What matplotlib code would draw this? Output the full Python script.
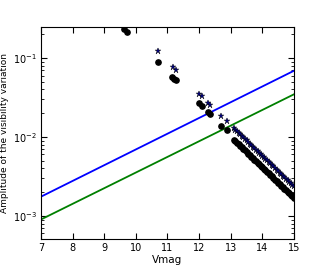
import matplotlib
matplotlib.use("Agg")
import matplotlib.pyplot as plt

# isolated points (bright end)
v_circ = [9.62, 9.73, 10.70, 11.16, 11.21, 11.27, 12.00, 12.08, 12.29, 12.34, 12.70, 12.87]
a_circ = [0.235, 0.213, 0.090, 0.057, 0.055, 0.053, 0.0267, 0.0247, 0.0205, 0.0195, 0.0139, 0.0123]
v_star = [10.69, 11.17, 11.27, 12.00, 12.08, 12.29, 12.34, 12.70, 12.87]
a_star = [0.121, 0.076, 0.0705, 0.035, 0.0327, 0.0272, 0.0257, 0.0185, 0.0161]

# dense faint-end sequence
v_seq = [13.10, 13.15, 13.20, 13.25, 13.30, 13.35, 13.40, 13.45, 13.50, 13.55,
         13.60, 13.65, 13.70, 13.75, 13.80, 13.85, 13.90, 13.95, 14.00, 14.05,
         14.10, 14.15, 14.20, 14.25, 14.30, 14.35, 14.40, 14.45, 14.50, 14.55,
         14.60, 14.65, 14.70, 14.75, 14.80, 14.85, 14.90, 14.95, 15.00]
a_seq_circ = [0.00923, 0.00883, 0.00844, 0.00807, 0.00772, 0.00738, 0.00706, 0.00675, 0.00646, 0.00617,
              0.00590, 0.00565, 0.00540, 0.00516, 0.00494, 0.00472, 0.00452, 0.00432, 0.00413, 0.00395,
              0.00378, 0.00361, 0.00345, 0.00330, 0.00316, 0.00302, 0.00289, 0.00276, 0.00264, 0.00253,
              0.00242, 0.00231, 0.00221, 0.00211, 0.00202, 0.00193, 0.00185, 0.00177, 0.00169]
a_seq_star = [0.0129, 0.01236, 0.01182, 0.0113, 0.0108, 0.01033, 0.00988, 0.00945, 0.00904, 0.00864,
              0.00826, 0.00791, 0.00756, 0.00722, 0.00692, 0.00661, 0.00633, 0.00605, 0.00578, 0.00553,
              0.00529, 0.00505, 0.00483, 0.00462, 0.00442, 0.00423, 0.00405, 0.00386, 0.0037, 0.00354,
              0.00339, 0.00323, 0.00309, 0.00295, 0.00283, 0.0027, 0.00259, 0.00248, 0.00237]

# detection limits
v_lim = [7, 15]
lim_blue = [0.00175, 0.069]
lim_green = [0.00090, 0.0347]

fig = plt.figure(figsize=(3.27, 2.73), dpi=100)
ax = fig.add_axes([0.125, 0.1245, 0.774, 0.7766])

ax.plot(v_lim, lim_blue, color="blue", lw=1.3)
ax.plot(v_lim, lim_green, color="green", lw=1.3)

ax.plot(v_circ + v_seq, a_circ + a_seq_circ, "o", color="black", ms=3.8, mec="black")
ax.plot(v_star + v_seq, a_star + a_seq_star, "*", color="#000080", ms=5, mec="black", mew=0.3)

ax.set_yscale("log")
ax.set_xlim(7, 15)
ax.set_ylim(5.1e-4, 0.247)
ax.set_xticks(range(7, 16))
ax.set_xlabel("Vmag", fontsize=7.5, labelpad=1)
ax.set_ylabel("Amplitude of the visibility variation", fontsize=6.5, labelpad=3)
ax.tick_params(which="both", direction="in", top=True, right=True, labelsize=7, pad=3)
ax.tick_params(which="major", length=4)
ax.tick_params(which="minor", length=2)
for s in ax.spines.values():
    s.set_linewidth(0.8)

fig.savefig("out.png", dpi=100)
